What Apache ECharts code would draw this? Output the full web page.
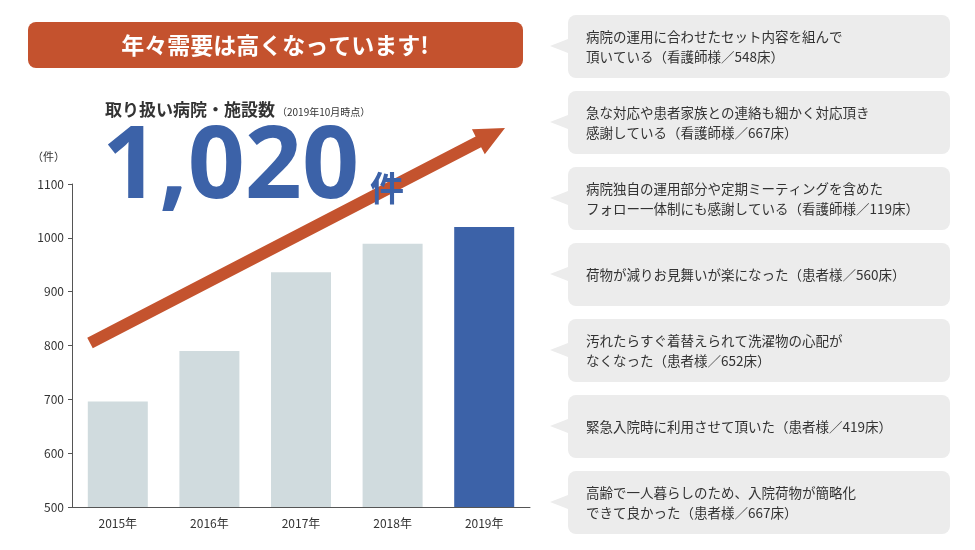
<!DOCTYPE html>
<html><head><meta charset="utf-8">
<script src="https://cdn.jsdelivr.net/npm/echarts@6/dist/echarts.min.js"></script>
<style>html,body{margin:0;padding:0;background:#fff}#c{width:975px;height:550px}</style>
</head><body><div id="c"></div>
<script>
const categories = ['2015年','2016年','2017年','2018年','2019年'];
const values = [696, 790, 936, 989, 1020];
const comments = [
 '病院の運用に合わせたセット内容を組んで\n頂いている（看護師様／548床）',
 '急な対応や患者家族との連絡も細かく対応頂き\n感謝している（看護師様／667床）',
 '病院独自の運用部分や定期ミーティングを含めた\nフォロー一体制にも感謝している（看護師様／119床）',
 '荷物が減りお見舞いが楽になった（患者様／560床）',
 '汚れたらすぐ着替えられて洗濯物の心配が\nなくなった（患者様／652床）',
 '緊急入院時に利用させて頂いた（患者様／419床）',
 '高齢で一人暮らしのため、入院荷物が簡略化\nできて良かった（患者様／667床）'
];
const F = '"Noto Sans CJK JP","Noto Sans",sans-serif';
const chart = echarts.init(document.getElementById('c'));
const graphics = [];
comments.forEach((t,i)=>{
  const y = 15 + i*76;
  graphics.push({type:'rect',shape:{x:568,y:y,width:382,height:63,r:8},style:{fill:'#ececec'},z:1});
  graphics.push({type:'polygon',shape:{points:[[568,y+24],[550,y+31],[568,y+38]]},style:{fill:'#ececec'},z:1});
  graphics.push({type:'text',x:586,y:y+31.5,style:{text:t,fill:'#333',font:'13.5px '+F,verticalAlign:'middle',lineHeight:20},z:2});
});
graphics.push({type:'rect',shape:{x:28,y:22,width:495,height:46,r:8},style:{fill:'#c4522e'}});
graphics.push({type:'text',x:275,y:45,style:{text:'年々需要は高くなっています!',fill:'#fff',font:'bold 23px '+F,align:'center',verticalAlign:'middle'}});
graphics.push({type:'text',x:105,y:110,style:{text:'取り扱い病院・施設数',fill:'#333',font:'bold 17px '+F,verticalAlign:'middle'}});
graphics.push({type:'text',x:277,y:112,style:{text:'（2019年10月時点）',fill:'#333',font:'10px '+F,verticalAlign:'middle'}});
const x1=90,y1=343,x2=505,y2=128;
const ang=Math.atan2(y2-y1,x2-x1);
const px=-Math.sin(ang),py=Math.cos(ang);
const w=6,hw=14,hl=30;
const bx=x2-hl*Math.cos(ang),by=y2-hl*Math.sin(ang);
graphics.push({type:'polygon',z:5,shape:{points:[
 [x1+px*w,y1+py*w],[bx+px*w,by+py*w],[bx+px*hw,by+py*hw],[x2,y2],[bx-px*hw,by-py*hw],[bx-px*w,by-py*w],[x1-px*w,y1-py*w]]},
 style:{fill:'#c4532e'}});
graphics.push({type:'text',z:6,x:102,y:170,style:{text:'1,020',fill:'#3c62a8',font:'bold 100px "Open Sans",sans-serif',verticalAlign:'middle'}});
graphics.push({type:'text',z:6,x:370,y:188,style:{text:'件',fill:'#3c62a8',font:'bold 34px '+F,verticalAlign:'middle'}});
graphics.push({type:'text',x:32,y:157,style:{text:'（件）',fill:'#333',font:'11px '+F,verticalAlign:'middle'}});
chart.setOption({
  animation:false,
  grid:{left:72,right:445,top:184,bottom:43},
  xAxis:{type:'category',data:categories,axisTick:{show:false},axisLine:{lineStyle:{color:'#555'}},
    axisLabel:{color:'#333',fontSize:12,fontFamily:F,margin:10}},
  yAxis:{type:'value',min:500,max:1100,interval:100,axisLine:{show:true,lineStyle:{color:'#555'}},
    axisTick:{show:true,length:4,lineStyle:{color:'#555'}},
    axisLabel:{color:'#333',fontSize:12,fontFamily:F,formatter:v=>String(v)},splitLine:{show:false}},
  series:[{type:'bar',barWidth:60,data:values.map((v,i)=>({value:v,itemStyle:{color:i===values.length-1?'#3c62a8':'#d0dbde'}}))}],
  graphic:graphics
});
</script></body></html>
